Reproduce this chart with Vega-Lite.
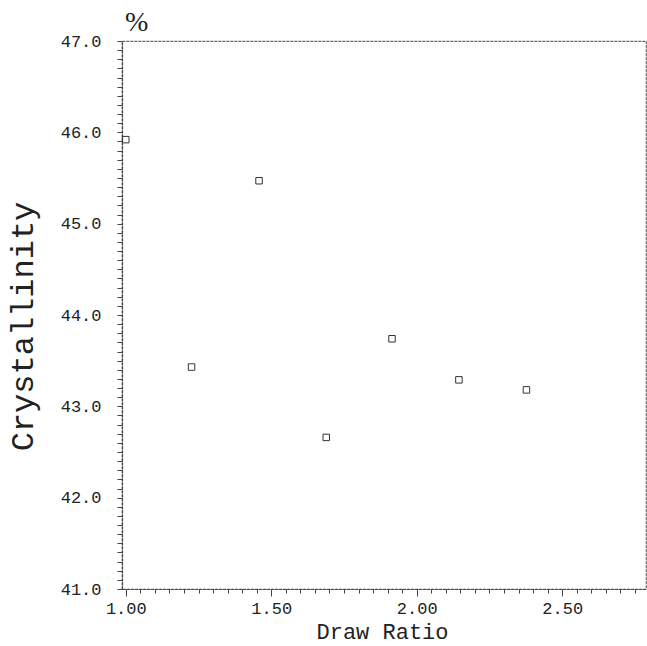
{
  "$schema": "https://vega.github.io/schema/vega-lite/v6.json",
  "autosize": "none",
  "width": 524,
  "height": 548,
  "padding": {"left": 122, "top": 41, "right": 1, "bottom": 57},
  "background": "white",
  "title": {"text": "%", "anchor": "start", "frame": "group", "font": "Liberation Serif", "fontSize": 28, "fontWeight": "normal", "color": "#222", "offset": 0, "dx": 3, "dy": 5},
  "config": {
    "view": {"stroke": "#666", "strokeWidth": 1.2, "strokeDash": [3, 1]},
    "axis": {"labelFont": "Liberation Mono", "titleFont": "Liberation Mono", "labelColor": "#222", "titleColor": "#222", "domainColor": "#444", "tickColor": "#444", "grid": false, "titleFontWeight": "normal"}
  },
  "data": {"values": [
    {"ratio": 1.00, "cryst": 45.92},
    {"ratio": 1.226, "cryst": 43.43},
    {"ratio": 1.458, "cryst": 45.47},
    {"ratio": 1.689, "cryst": 42.66},
    {"ratio": 1.915, "cryst": 43.74},
    {"ratio": 2.145, "cryst": 43.29},
    {"ratio": 2.377, "cryst": 43.18}
  ]},
  "mark": {"type": "point", "shape": "square", "filled": false, "size": 42, "stroke": "#333", "strokeWidth": 1, "opacity": 1},
  "encoding": {
    "x": {"field": "ratio", "type": "quantitative",
      "scale": {"domain": [0.987, 2.788], "nice": false, "zero": false},
      "axis": {"title": "Draw Ratio", "titleFontSize": 22, "titleX": 260, "titleY": 42, "titleBaseline": "middle", "titleAlign": "center",
        "values": [1.0,1.05,1.1,1.15,1.2,1.25,1.3,1.35,1.4,1.45,1.5,1.55,1.6,1.65,1.7,1.75,1.8,1.85,1.9,1.95,2.0,2.05,2.1,2.15,2.2,2.25,2.3,2.35,2.4,2.45,2.5,2.55,2.6,2.65,2.7,2.75],
        "labelExpr": "round(datum.value*100) % 50 == 0 ? format(datum.value, '.2f') : ''",
        "labelOverlap": false, "labelFontSize": 17, "labelPadding": 4, "labelBaseline": "top",
        "tickSize": {"condition": {"test": "round(datum.value*100) % 50 == 0", "value": 7}, "value": 4},
        "tickWidth": 1, "domainWidth": 1.2, "domainDash": [3, 1]}},
    "y": {"field": "cryst", "type": "quantitative",
      "scale": {"domain": [41, 47], "nice": false, "zero": false},
      "axis": {"title": "Crystallinity", "titleFontSize": 32, "titleX": -100, "titleY": 285, "titleBaseline": "middle", "titleAlign": "center", "titleAngle": -90,
        "values": [41.0,41.1,41.2,41.3,41.4,41.5,41.6,41.7,41.8,41.9,42.0,42.1,42.2,42.3,42.4,42.5,42.6,42.7,42.8,42.9,43.0,43.1,43.2,43.3,43.4,43.5,43.6,43.7,43.8,43.9,44.0,44.1,44.2,44.3,44.4,44.5,44.6,44.7,44.8,44.9,45.0,45.1,45.2,45.3,45.4,45.5,45.6,45.7,45.8,45.9,46.0,46.1,46.2,46.3,46.4,46.5,46.6,46.7,46.8,46.9,47.0],
        "labelExpr": "round(datum.value*10) % 10 == 0 ? format(datum.value, '.1f') : ''",
        "labelOverlap": false, "labelFontSize": 17, "labelPadding": 16,
        "tickSize": 5, "tickWidth": 1, "domainWidth": 1.2, "domainDash": [3, 1]}}
  }
}
